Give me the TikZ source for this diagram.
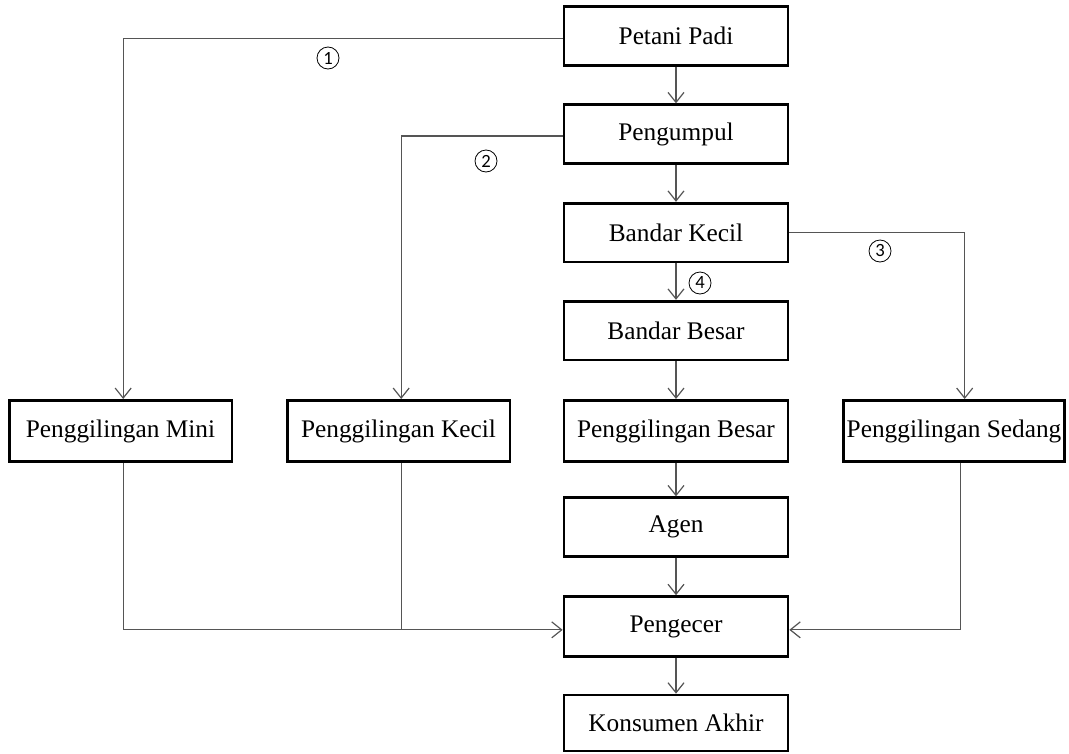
\documentclass[tikz,border=0pt]{standalone}
\usepackage{fontspec}
\setmainfont{Liberation Serif}
\newfontfamily\numfont{Carlito}
\usetikzlibrary{arrows.meta}
\definecolor{linegray}{HTML}{555555}
\tikzset{
  box/.style={draw=black, line width=2pt, rectangle, minimum width=168pt, minimum height=44pt, inner sep=0pt, font=\fontsize{19}{22}\selectfont},
  conn/.style={draw=linegray, line width=0.9pt},
  arr/.style={conn, -{Straight Barb[length=7.5pt,width=12pt,line width=0.9pt]}},
  num/.style={circle, draw=black, line width=0.6pt, minimum size=16.5pt, inner sep=0pt, font=\numfont\fontsize{14}{14}\selectfont}
}
\begin{document}
\begin{tikzpicture}[x=0.75pt,y=-0.75pt]
\useasboundingbox (0,0) rectangle (1069,753);
% centre column
\node[box] (petani) at (676,36) {Petani Padi};
\node[box] (pengumpul) at (676,134) {Pengumpul};
\node[box] (bkecil) at (676,232.5) {Bandar Kecil};
\node[box] (bbesar) at (676,330.5) {Bandar Besar};
\node[box, minimum height=46pt] (pbesar) at (676,431) {Penggilingan Besar};
\node[box] (agen) at (676,527) {Agen};
\node[box, minimum height=45pt] (pengecer) at (676,626.5) {Pengecer};
\node[box, minimum height=42pt] (konsumen) at (676,723) {Konsumen Akhir};
% side boxes
\node[box, minimum width=167pt, minimum height=46pt] (pmini) at (120.5,431) {Penggilingan Mini};
\node[box, minimum width=167pt, minimum height=46pt] (pkecil) at (398.5,431) {Penggilingan Kecil};
\node[box, minimum width=166pt, minimum height=46pt] (psedang) at (954,431) {Penggilingan Sedang};
% vertical arrows
\draw[arr] (petani) -- (pengumpul);
\draw[arr] (pengumpul) -- (bkecil);
\draw[arr] (bkecil) -- (bbesar);
\draw[arr] (bbesar) -- (pbesar);
\draw[arr] (pbesar) -- (agen);
\draw[arr] (agen) -- (pengecer);
\draw[arr] (pengecer) -- (konsumen);
% branches
\draw[arr] ([yshift=-2pt]petani.west) -| ([xshift=2pt]pmini.north);
\draw[arr] ([yshift=-1.5pt]pengumpul.west) -| ([xshift=2pt]pkecil.north);
\draw[arr] (bkecil.east) -| ([xshift=8pt]psedang.north);
% to pengecer
\coordinate (pw) at ([yshift=-2.5pt]pengecer.west);
\coordinate (pe) at ([yshift=-2.5pt]pengecer.east);
\coordinate (mj) at ([xshift=2.5pt]pmini.south);
\coordinate (kj) at ([xshift=2pt]pkecil.south);
\coordinate (sj) at ([xshift=5pt]psedang.south);
\draw[arr] (mj) |- (pw);
\draw[conn] (kj) -- (kj |- pw);
\draw[arr] (sj) |- (pe);
% numbers
\node[num] (n1) at (328,58) {1};
\node[num] (n2) at (486,161) {2};
\node[num] (n3) at (880,251) {3};
\node[num] (n4) at (700,283) {4};
\end{tikzpicture}
\end{document}
